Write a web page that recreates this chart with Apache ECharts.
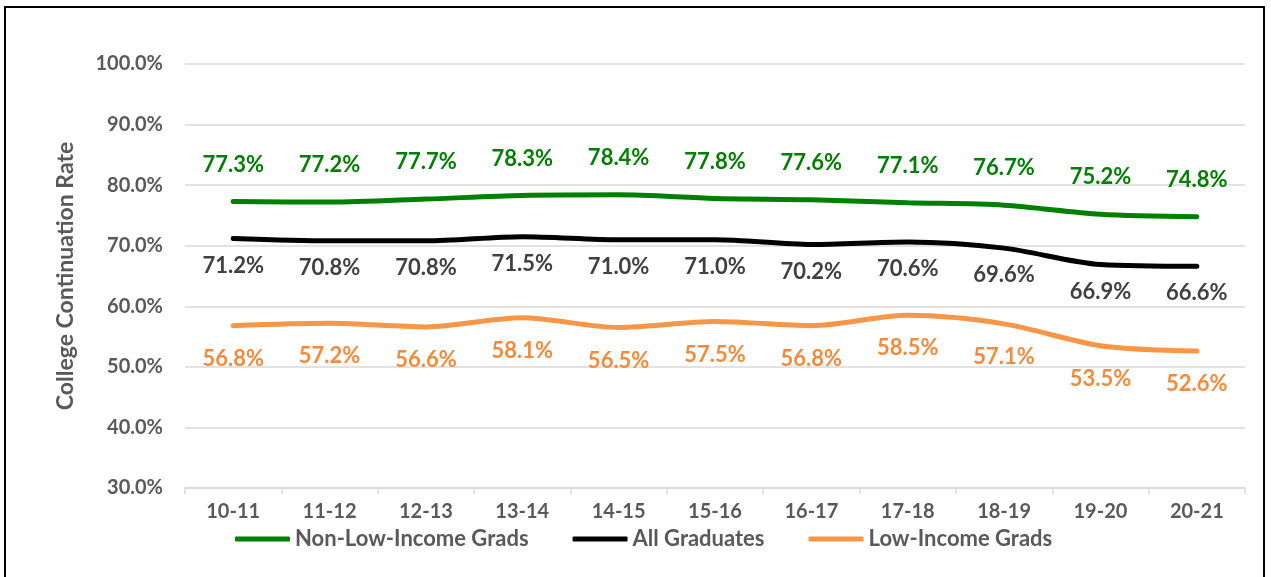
<!DOCTYPE html>
<html>
<head>
<meta charset="utf-8">
<script src="https://cdn.jsdelivr.net/npm/echarts@6/dist/echarts.min.js"></script>
<style>
  html, body { margin: 0; padding: 0; background: #fff; }
  #chart { width: 1271px; height: 577px; }
</style>
</head>
<body>
<div id="chart"></div>
<script>
// school years
var years = ['10-11', '11-12', '12-13', '13-14', '14-15', '15-16', '16-17', '17-18', '18-19', '19-20', '20-21'];
// college continuation rates (%)
var nonLowIncome = [77.3, 77.2, 77.7, 78.3, 78.4, 77.8, 77.6, 77.1, 76.7, 75.2, 74.8];
var allGrads = [71.2, 70.8, 70.8, 71.5, 71.0, 71.0, 70.2, 70.6, 69.6, 66.9, 66.6];
var lowIncome = [56.8, 57.2, 56.6, 58.1, 56.5, 57.5, 56.8, 58.5, 57.1, 53.5, 52.6];

var font = 'Lato, "Open Sans", sans-serif';
var mychart = echarts.init(document.getElementById('chart'));

function lineSeries(name, data, color, labelColor, pos, dist) {
  return {
    name: name,
    type: 'line',
    data: data,
    smooth: 0.3,
    showSymbol: true,
    symbol: 'circle',
    symbolSize: 0,
    lineStyle: { width: 5, color: color, cap: 'round' },
    itemStyle: { color: color },
    label: {
      show: true,
      position: pos,
      distance: dist,
      color: labelColor,
      fontFamily: font,
      fontWeight: 'bold',
      fontSize: 22,
      formatter: function (p) { return p.value.toFixed(1) + '%'; }
    }
  };
}

mychart.setOption({
  animation: false,
  backgroundColor: '#fff',
  graphic: [{
    type: 'rect',
    shape: { x: 5, y: 7, width: 1259, height: 580 },
    style: { fill: 'none', stroke: '#000', lineWidth: 2 }
  }],
  grid: { left: 185, right: 26, top: 64, bottom: 89 },
  legend: {
    bottom: 22,
    left: 230,
    itemWidth: 55,
    itemHeight: 5,
    itemGap: 44,
    icon: 'roundRect',
    textStyle: { color: '#595959', fontFamily: font, fontWeight: 'bold', fontSize: 22 },
    data: ['Non-Low-Income Grads', 'All Graduates', 'Low-Income Grads']
  },
  xAxis: {
    type: 'category',
    data: years,
    boundaryGap: true,
    axisLine: { lineStyle: { color: '#d9d9d9', width: 1.5 } },
    axisTick: { show: true, length: 6, lineStyle: { color: '#d9d9d9', width: 1.5 } },
    axisLabel: { color: '#595959', fontFamily: font, fontWeight: 'bold', fontSize: 20, margin: 14 }
  },
  yAxis: {
    type: 'value',
    min: 30,
    max: 100,
    interval: 10,
    name: 'College Continuation Rate',
    nameLocation: 'middle',
    nameGap: 108,
    nameTextStyle: { color: '#595959', fontFamily: font, fontWeight: 'bold', fontSize: 23 },
    axisLine: { show: false },
    axisTick: { show: false },
    axisLabel: {
      color: '#595959', fontFamily: font, fontWeight: 'bold', fontSize: 20, margin: 22,
      formatter: function (v) { return v.toFixed(1) + '%'; }
    },
    splitLine: { lineStyle: { color: '#d9d9d9', width: 1.5 } }
  },
  series: [
    lineSeries('Non-Low-Income Grads', nonLowIncome, '#008000', '#008000', 'top', 26),
    lineSeries('All Graduates', allGrads, '#000000', '#404040', 'bottom', 16),
    lineSeries('Low-Income Grads', lowIncome, '#F79646', '#F58A3A', 'bottom', 22)
  ]
});
</script>
</body>
</html>
